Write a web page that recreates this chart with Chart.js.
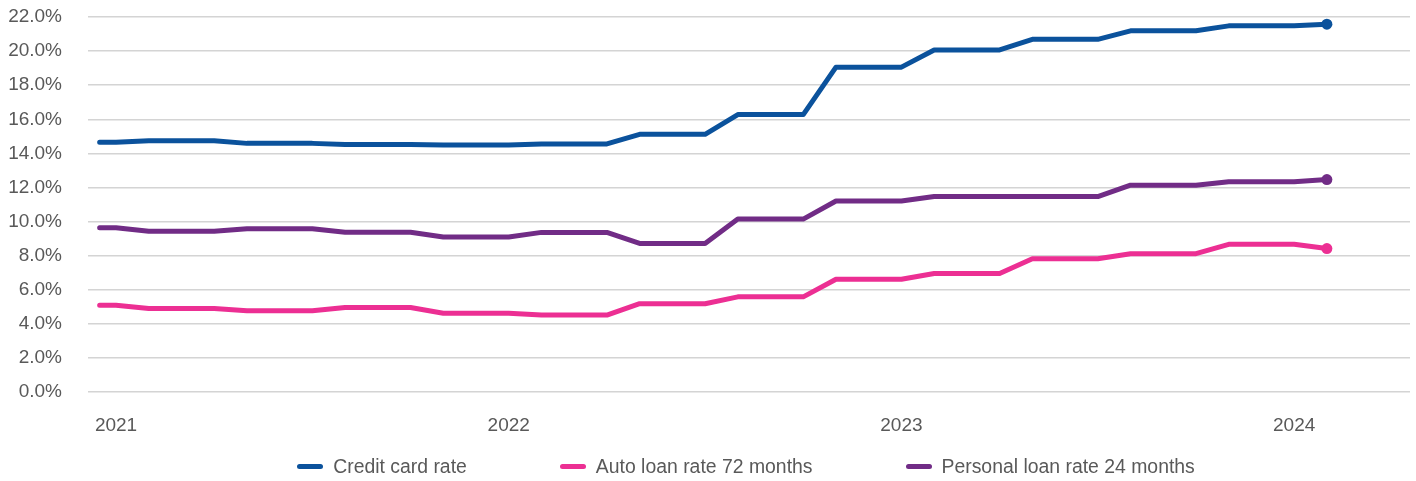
<!DOCTYPE html>
<html>
<head>
<meta charset="utf-8">
<title>Consumer loan rates</title>
<script src="https://cdn.jsdelivr.net/npm/chart.js@4.4.1/dist/chart.umd.min.js"></script>
<style>
  html, body { margin: 0; padding: 0; background: #fff; }
  #wrap { position: relative; width: 1416px; height: 481px; }
  #rates { display: block; }
  #legend {
    position: absolute;
    top: 454px;
    display: flex;
    justify-content: center;
    gap: 93px;
    font: 19.4px "Liberation Sans", Arial, sans-serif;
    color: #595959;
    line-height: 24px;
  }
  .item { display: flex; align-items: center; white-space: nowrap; }
  .swatch { width: 26px; height: 5px; border-radius: 3px; margin-right: 10px; }
</style>
</head>
<body>
<div id="wrap">
  <canvas id="rates" width="1416" height="481"></canvas>
  <div id="legend"></div>
</div>
<script>
// month offsets from Jan 2021 (0 = Jan 2021, 37 = Feb 2024)
const months = [-0.5, 0, 1, 2, 3, 4, 5, 6, 7, 8, 9, 10, 11, 12, 13, 14, 15, 16, 17, 18, 19,
    20, 21, 22, 23, 24, 25, 26, 27, 28, 29, 30, 31, 32, 33, 34, 35, 36, 37];

// rates in %, quarterly readings carried forward month to month
const creditCard = [14.65, 14.65, 14.75, 14.75, 14.75, 14.59, 14.59, 14.59, 14.53, 14.53, 14.53,
    14.50, 14.50, 14.50, 14.56, 14.56, 14.56, 15.12, 15.12, 15.12, 16.28, 16.28, 16.28,
    19.06, 19.06, 19.06, 20.07, 20.07, 20.07, 20.69, 20.69, 20.69, 21.19, 21.19, 21.19,
    21.48, 21.48, 21.48, 21.58];
const autoLoan72 = [5.10, 5.10, 4.91, 4.91, 4.91, 4.77, 4.77, 4.77, 4.97, 4.97, 4.97,
    4.63, 4.63, 4.63, 4.52, 4.52, 4.52, 5.19, 5.19, 5.19, 5.59, 5.59, 5.59,
    6.62, 6.62, 6.62, 6.96, 6.96, 6.96, 7.83, 7.83, 7.83, 8.12, 8.12, 8.12,
    8.67, 8.67, 8.67, 8.42];
const personalLoan24 = [9.64, 9.64, 9.44, 9.44, 9.44, 9.58, 9.58, 9.58, 9.38, 9.38, 9.38,
    9.10, 9.10, 9.10, 9.37, 9.37, 9.37, 8.72, 8.72, 8.72, 10.15, 10.15, 10.15,
    11.21, 11.21, 11.21, 11.47, 11.47, 11.47, 11.47, 11.47, 11.47, 12.14, 12.14, 12.14,
    12.34, 12.34, 12.34, 12.47];

const seriesNames = ['Credit card rate', 'Auto loan rate 72 months', 'Personal loan rate 24 months'];
const seriesColors = ['#0b529c', '#ec2f93', '#712c86'];

const yearTicks = [0, 12, 24, 36];
const yearLabels = ['2021', '2022', '2023', '2024'];

const textColor = '#595959';
const tickFont = { family: '"Liberation Sans", Arial, sans-serif', size: 19 };

function toPoints(values) {
    return months.map((m, i) => ({ x: m, y: values[i] }));
}

function makeDataset(label, values, color) {
    return {
        label: label,
        data: toPoints(values),
        borderColor: color,
        backgroundColor: color,
        borderWidth: 5,
        tension: 0,
        borderJoinStyle: 'round',
        borderCapStyle: 'round',
        // only the latest reading gets a dot
        pointRadius: ctx => ctx.dataIndex === months.length - 1 ? 5.5 : 0,
        pointHoverRadius: 0,
        pointBorderWidth: 0,
        pointBackgroundColor: color
    };
}

// legend rendered as html under the plot, centred on the chart area
const htmlLegend = {
    id: 'htmlLegend',
    afterUpdate(chart) {
        const box = document.getElementById('legend');
        box.style.left = (chart.chartArea.left - 3) + 'px';
        box.style.width = (chart.chartArea.right - chart.chartArea.left) + 'px';
        box.innerHTML = '';
        chart.data.datasets.forEach(ds => {
            const item = document.createElement('div');
            item.className = 'item';
            const swatch = document.createElement('span');
            swatch.className = 'swatch';
            swatch.style.background = ds.borderColor;
            const label = document.createElement('span');
            label.textContent = ds.label;
            item.appendChild(swatch);
            item.appendChild(label);
            box.appendChild(item);
        });
    }
};

const ctx = document.getElementById('rates').getContext('2d');
new Chart(ctx, {
    type: 'line',
    data: {
        datasets: [
            makeDataset(seriesNames[0], creditCard, seriesColors[0]),
            makeDataset(seriesNames[1], autoLoan72, seriesColors[1]),
            makeDataset(seriesNames[2], personalLoan24, seriesColors[2])
        ]
    },
    options: {
        responsive: false,
        animation: false,
        layout: { padding: { left: 8, right: 6, top: 17, bottom: 22 } },
        plugins: {
            legend: { display: false },
            tooltip: { enabled: false }
        },
        scales: {
            x: {
                type: 'linear',
                min: -0.856,
                max: 39.54,
                grid: { display: false, drawTicks: false },
                border: { display: false },
                afterBuildTicks: scale => {
                    scale.ticks = yearTicks.map(v => ({ value: v }));
                },
                // label padding shouldn't eat into the plot width
                afterFit: scale => {
                    scale.paddingLeft = 0;
                    scale.paddingRight = 0;
                },
                ticks: {
                    padding: 22,
                    color: textColor,
                    font: tickFont,
                    autoSkip: false,
                    maxRotation: 0,
                    callback: value => yearLabels[yearTicks.indexOf(value)]
                }
            },
            y: {
                min: 0,
                max: 22,
                grid: { color: '#d4d4d4', lineWidth: 1.5, drawTicks: false },
                border: { display: false },
                afterFit: scale => {
                    scale.paddingTop = 0;
                    scale.paddingBottom = 0;
                    scale.width = 80;
                },
                ticks: {
                    stepSize: 2,
                    padding: 26,
                    color: textColor,
                    font: tickFont,
                    callback: value => value.toFixed(1) + '%'
                }
            }
        }
    },
    plugins: [htmlLegend]
});
</script>
</body>
</html>
